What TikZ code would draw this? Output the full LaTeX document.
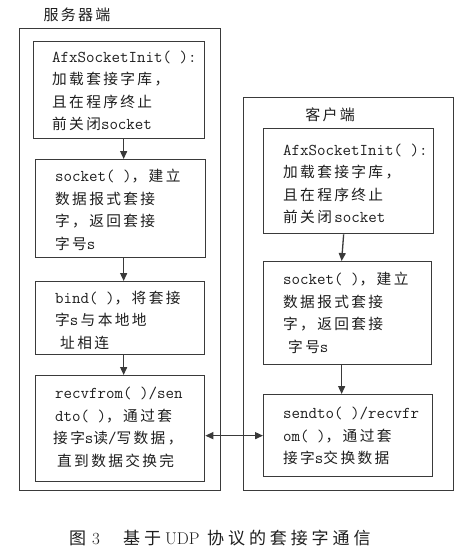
\documentclass[tikz,border=0pt]{standalone}
\usepackage{fontspec}
\usetikzlibrary{arrows.meta,calc}
\newfontfamily\cj[Scale=1.05,LetterSpace=16]{Noto Sans CJK SC}
\newfontfamily\cjt[LetterSpace=15]{Noto Sans CJK SC}
\newfontfamily\cjc[LetterSpace=23]{Noto Sans CJK SC}
\newcommand\mo{\fontsize{16.5}{22.5}\selectfont\ttfamily}
\definecolor{linec}{HTML}{3A3A3A}
\definecolor{txtc}{HTML}{1E1E1E}
\begin{document}
\begin{tikzpicture}[x=1pt,y=-1pt,
  outerbox/.style={draw=linec,line width=1.3pt,anchor=north west,inner sep=0pt},
  box/.style={draw=linec,line width=1.3pt,anchor=north west,inner sep=0pt},
  txt/.style={anchor=west,align=left,inner sep=0pt,text=txtc,
    font=\fontsize{14}{22.5}\selectfont},
  ttl/.style={inner sep=0pt,text=txtc,font=\fontsize{15}{18}\selectfont\cjt},
  arr/.style={draw=linec,line width=1.3pt,-{Triangle[length=8pt,width=7pt]}},
  darr/.style={draw=linec,line width=1.3pt,{Triangle[length=8pt,width=7pt]}-{Triangle[length=8pt,width=7pt]}}
]
\fill[white] (0,0) rectangle (475,550);
\useasboundingbox (0,0) rectangle (475,550);

% server side
\node[ttl] (st) at (77,15) {服务器端};
\node[outerbox,minimum width=201pt,minimum height=462pt] (so) at (19,28) {};
\node[box,minimum width=171pt,minimum height=97pt] (s1) at (33,41) {};
\node[box,minimum width=170pt,minimum height=98pt] (s2) at (35,159) {};
\node[box,minimum width=169pt,minimum height=73pt] (s3) at (35,281) {};
\node[box,minimum width=169pt,minimum height=106pt] (s4) at (35,375) {};

\node[txt] (s1t) at (52,91) {{\mo AfxSocketInit(~):}\\{\cj 加载套接字库，}\\{\cj 且在程序终止}\\{\cj 前关闭}{\mo socket}};
\node[txt] (s2t) at (55,210) {{\mo socket(~)}{\cj ，建立}\\{\cj 数据报式套接}\\{\cj 字，返回套接}\\{\cj 字号}{\mo s}};
\node[txt] (s3t) at (55,320) {{\mo bind(~)}{\cj ，将套接}\\{\cj 字}{\mo s}\,{\cj 与本地地}\\\hspace*{5pt}{\cj 址相连}};
\node[txt] (s4t) at (55,427.5) {{\mo recvfrom(~)/sen}\\{\mo dto(~)}{\cj ，通过套}\\\hspace*{-2pt}{\cj 接字}{\mo s}{\cj 读}{\mo /}{\cj 写数据，}\\\hspace*{2pt}{\cj 直到数据交换完}};

% client side
\node[outerbox,minimum width=210pt,minimum height=393pt] (co) at (243,97) {};
\node[ttl] (ct) at (330,115) {客户端};
\node[box,minimum width=170pt,minimum height=105pt] (c1) at (263,128) {};
\node[box,minimum width=168pt,minimum height=103pt] (c2) at (263,261) {};
\node[box,minimum width=169pt,minimum height=82pt] (c3) at (263,394) {};

\node[txt] (c1t) at (283,184) {{\mo AfxSocketInit(~):}\\{\cj 加载套接字库，}\\{\cj 且在程序终止}\\{\cj 前关闭}\,{\mo socket}};
\node[txt] (c2t) at (283,313) {{\mo socket(~)}{\cj ，建立}\\{\cj 数据报式套接}\\{\cj 字，返回套接}\\\hspace*{5pt}{\cj 字号}{\mo s}};
\node[txt] (c3t) at (283,436) {{\mo sendto(~)/recvfr}\\{\mo om(~)}{\cj ，通过套}\\{\cj 接字}{\mo s}{\cj 交换数据}};

% connectors
\draw[arr] ([xshift=4.5pt]s1.south) -- ([xshift=3pt]s2.north);
\draw[arr] ([xshift=3pt]s2.south) -- ([xshift=3.5pt]s3.north);
\draw[arr] ([xshift=3.5pt]s3.south) -- ([xshift=3.5pt]s4.north);
\draw[arr] ([xshift=-5pt]c1.south) -- ([xshift=-6pt]c2.north);
\draw[arr] ([xshift=-6pt]c2.south) -- ([xshift=-6.5pt]c3.north);
\draw[darr] (c3.west -| s4.east) -- (c3.west);

% caption
\node[anchor=west,inner sep=0pt,text=txtc,font=\fontsize{17}{20}\selectfont] (cap) at (69,538)
  {\makebox[23pt][l]{\cjc 图}\makebox[31pt][l]{3}\makebox[42pt][l]{\cjc 基于}\makebox[42pt][l]{UDP}{\cjc 协议的套接字通信}};
\end{tikzpicture}
\end{document}
